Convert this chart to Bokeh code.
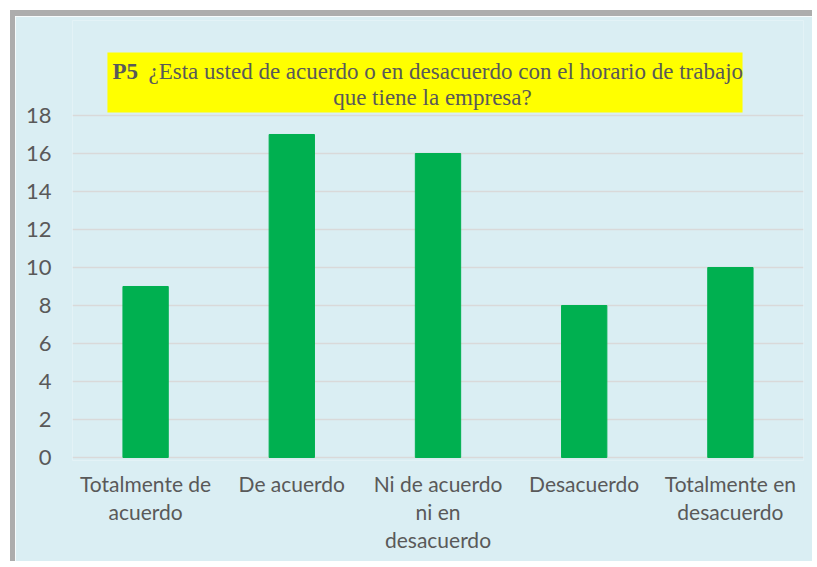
from bokeh.plotting import figure
from bokeh.models import FactorRange, Range1d, FixedTicker, BoxAnnotation, Label
from bokeh.embed import file_html
from bokeh.resources import INLINE

categories = ["Totalmente de\nacuerdo", "De acuerdo", "Ni de acuerdo\nni en\ndesacuerdo",
              "Desacuerdo", "Totalmente en\ndesacuerdo"]
values = [9, 17, 16, 8, 10]
y_ticks = [0, 2, 4, 6, 8, 10, 12, 14, 16, 18]
title_bold = "P5"
title_line1 = "¿Esta usted de acuerdo o en desacuerdo con el horario de trabajo"
title_line2 = "que tiene la empresa?"

BG = "#DAEEF3"
TXT = "#595959"

p = figure(width=802, height=551, output_backend="svg", toolbar_location=None,
           x_range=FactorRange(factors=categories, range_padding=0),
           y_range=Range1d(-0.158, 23.0),
           min_border_left=57, min_border_right=14, min_border_top=4, min_border_bottom=107)
p.styles = {"margin-left": "10px", "margin-top": "10px", "margin-bottom": "-80px",
            "border-left": "5px solid #ADADAD", "border-top": "6px solid #ADADAD"}
p.background_fill_color = BG
p.border_fill_color = BG
p.outline_line_color = None

p.vbar(x=categories, top=values, width=0.31, color="#00B050")

p.xgrid.grid_line_color = None
p.ygrid.grid_line_color = "#D9D9D9"
p.ygrid.grid_line_width = 1.5
p.yaxis.ticker = FixedTicker(ticks=y_ticks)
for ax in (p.xaxis, p.yaxis):
    ax.axis_line_color = None
    ax.major_tick_line_color = None
    ax.minor_tick_line_color = None
    ax.major_label_text_color = TXT
    ax.major_label_text_font = "Lato"
p.xaxis.major_label_text_font_size = "21px"
p.xaxis.major_label_text_line_height = 1.12
p.yaxis.major_label_text_font_size = "22px"
p.yaxis.major_label_standoff = 15
p.xaxis.major_label_standoff = 4

# title box
p.add_layout(BoxAnnotation(left=0.239, right=4.583, top=21.32, bottom=18.16,
                           fill_color="#FFFF00", fill_alpha=1, line_color=None, level="underlay"))
p.add_layout(Label(x=0.274, y=20.32, text=title_bold, text_font="Liberation Serif",
                   text_font_style="bold", text_font_size="23px", text_color=TXT,
                   text_baseline="alphabetic", text_align="left"))
p.add_layout(Label(x=0.52, y=20.32, text=title_line1, text_font="Liberation Serif",
                   text_font_size="23px", text_color=TXT,
                   text_baseline="alphabetic", text_align="left"))
p.add_layout(Label(x=2.462, y=18.95, text=title_line2, text_font="Liberation Serif",
                   text_font_size="23px", text_color=TXT,
                   text_baseline="alphabetic", text_align="center"))

open("out.html", "w").write(file_html(p, INLINE))
